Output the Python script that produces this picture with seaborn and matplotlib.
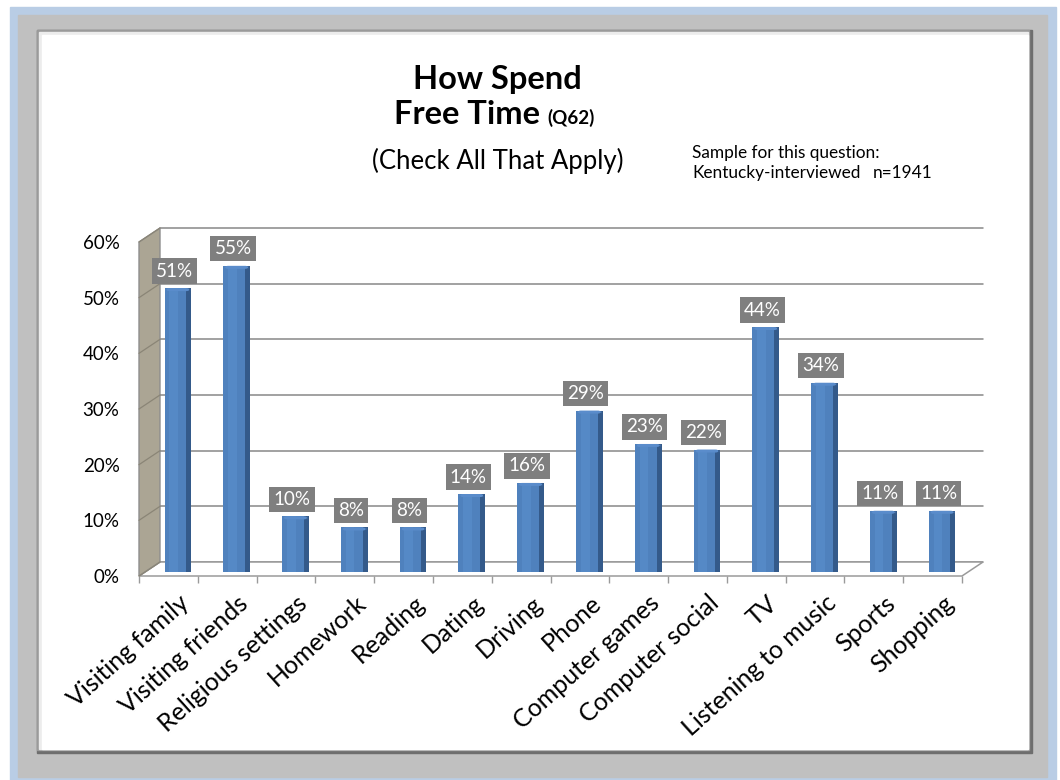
import numpy as np
import pandas as pd
import matplotlib
matplotlib.use("Agg")
import matplotlib.pyplot as plt
import matplotlib.transforms as mtrans
from matplotlib.patches import Rectangle, Polygon, FancyBboxPatch
from matplotlib.ticker import StrMethodFormatter
import seaborn as sns

# ---- data -------------------------------------------------------------
categories = ["Visiting family", "Visiting friends", "Religious settings",
              "Homework", "Reading", "Dating", "Driving", "Phone",
              "Computer games", "Computer social", "TV",
              "Listening to music", "Sports", "Shopping"]
percent = [51, 55, 10, 8, 8, 14, 16, 29, 23, 22, 44, 34, 11, 11]
y_ticks = [0, 10, 20, 30, 40, 50, 60]

title_line1 = "How Spend"
title_line2 = "Free Time"
question_code = "(Q62)"
subtitle = "(Check All That Apply)"
sample_line1 = "Sample for this question:"
sample_line2 = "Kentucky-interviewed"
sample_size = "n=1941"

# ---- style ------------------------------------------------------------
sns.set_theme(style="white")
plt.rcParams["font.family"] = ["Lato", "DejaVu Sans"]

W, H, DPI = 1060, 780, 100
fig = plt.figure(figsize=(W / DPI, H / DPI), dpi=DPI)
fig.patch.set_facecolor("white")


def frame_rect(x0, y0, x1, y1, **kw):
    """Rectangle given in pixel units measured from the top-left corner."""
    r = Rectangle((x0 / W, 1 - y1 / H), (x1 - x0) / W, (y1 - y0) / H,
                  transform=fig.transFigure, **kw)
    fig.patches.append(r)
    return r


# picture frame: light blue mat, grey border, white card with a soft shadow
frame_rect(10, 7, 1056, 780, color="#b9cde5", zorder=-10)
frame_rect(18, 15, 1047, 777, color="#c0c0c0", zorder=-9)
frame_rect(37, 30, 1032, 753, color="#6e6e6e", zorder=-8)
frame_rect(37, 30, 1029, 750, color="#9a9a9a", zorder=-7)
frame_rect(39, 32, 1028, 749, color="#ececec", zorder=-6)
frame_rect(42, 35, 1028, 749, color="white", zorder=-5)

# ---- axes (front plane of the 3-D box) --------------------------------
ax = fig.add_axes([139 / W, 1 - 576 / H, 823 / W, 334 / H])
ax.patch.set_alpha(0)

df = pd.DataFrame({"activity": categories, "share": percent})
face_w = 0.37
sns.barplot(data=df, x="activity", y="share", order=categories,
            color="#4f81bd", saturation=1, width=face_w, ax=ax,
            edgecolor="none", zorder=4)
bars = list(ax.patches)

n = len(categories)
x0, x1 = -0.5, n - 0.5
ax.set_xlim(x0, x1)
ax.set_ylim(0, 60)

# pixel sizes of one data unit, used for the depth offsets
pos = ax.get_position()
ux = pos.width * W / (x1 - x0)
uy = pos.height * H / 60.0
depth_dx = 21 / ux
depth_dy = 14 / uy

# bars sit a little behind the front edge
bar_trans = ax.transData + mtrans.ScaledTranslation(7 / DPI, 4 / DPI,
                                                    fig.dpi_scale_trans)
side_w = 5 / ux
cap_h = 3 / uy
for p in bars:
    p.set_transform(bar_trans)
    bx, bw, bh = p.get_x(), p.get_width(), p.get_height()
    # darker right-hand side of each column
    ax.add_patch(Rectangle((bx + bw, 0), side_w, bh, facecolor="#345a8a",
                           edgecolor="none", transform=bar_trans, zorder=4))
    # soft highlight down the face
    ax.add_patch(Rectangle((bx + 0.22 * bw, 0), 0.4 * bw, bh,
                           facecolor="#6096d4", alpha=0.4, edgecolor="none",
                           transform=bar_trans, zorder=4.1))
    # rounded top rim
    ax.add_patch(FancyBboxPatch((bx + 0.02, bh - cap_h), bw + side_w - 0.04,
                                cap_h,
                                boxstyle="round,pad=0,rounding_size=0.06",
                                mutation_aspect=ux / uy,
                                facecolor="#5a8ccb", edgecolor="none",
                                transform=bar_trans, zorder=4.2))

grid_c = "#878787"
# back wall grid lines
for v in y_ticks:
    ax.plot([x0 + depth_dx, x1 + depth_dx], [v + depth_dy, v + depth_dy],
            color=grid_c, lw=1.1, clip_on=False, zorder=1)

# floor
ax.add_patch(Polygon([(x0, 0), (x1, 0), (x1 + depth_dx, depth_dy),
                      (x0 + depth_dx, depth_dy)], closed=True,
                     facecolor="white", edgecolor="#9a9a9a", lw=1.1,
                     clip_on=False, zorder=2))
# left side wall with its own grid lines
ax.add_patch(Polygon([(x0, 0), (x0, 60), (x0 + depth_dx, 60 + depth_dy),
                      (x0 + depth_dx, depth_dy)], closed=True,
                     facecolor="#aba594", edgecolor="#8e8e8e", lw=1,
                     clip_on=False, zorder=3))
for v in y_ticks:
    ax.plot([x0, x0 + depth_dx], [v, v + depth_dy], color="#8a8576",
            lw=0.9, clip_on=False, zorder=3.1)

# value labels in grey boxes
for p, v in zip(bars, percent):
    ax.annotate(f"{v}%", xy=(p.get_x() + p.get_width() / 2, v),
                xycoords=bar_trans, xytext=(-1, 17),
                textcoords="offset pixels", ha="center", va="center",
                color="white", fontsize=13.5, zorder=6,
                annotation_clip=False,
                bbox=dict(boxstyle="square,pad=0.22", fc="#7f7f7f",
                          ec="none"))

# ---- ticks ------------------------------------------------------------
for s in ax.spines.values():
    s.set_visible(False)
ax.grid(False)
ax.set_xlabel("")
ax.set_ylabel("")
ax.set_yticks(y_ticks)
ax.yaxis.set_major_formatter(StrMethodFormatter("{x:.0f}%"))
ax.tick_params(axis="y", length=0, pad=14, labelsize=13.5,
               labelcolor="black")

ax.set_xticks(range(n))
ax.set_xticklabels(categories, rotation=42, ha="right",
                   rotation_mode="anchor", fontsize=18, color="black")
ax.tick_params(axis="x", which="major", length=0, pad=11)
ax.set_xticks(np.arange(x0, n, 1), minor=True)
ax.tick_params(axis="x", which="minor", bottom=True, length=5,
               width=1, color="#9a9a9a")
label_shift = mtrans.ScaledTranslation(10 / DPI, 0, fig.dpi_scale_trans)
for t in ax.xaxis.get_major_ticks():
    t.label1.set_transform(t.label1.get_transform() + label_shift)

# ---- titles -----------------------------------------------------------
fig.text(497 / W, 1 - 89 / H, title_line1, ha="center", va="baseline",
         fontsize=23.5, fontweight="bold", color="black")
fig.text(540 / W, 1 - 124 / H, title_line2, ha="right", va="baseline",
         fontsize=23.5, fontweight="bold", color="black")
fig.text(547 / W, 1 - 124 / H, question_code, ha="left", va="baseline",
         fontsize=13.5, fontweight="bold", color="black")
fig.text(498 / W, 1 - 161 / H, subtitle, ha="center", va="center",
         fontsize=18.5, color="black")
fig.text(692 / W, 1 - 153 / H, sample_line1, ha="left", va="center",
         fontsize=12.4, color="black")
fig.text(692 / W, 1 - 173 / H, sample_line2, ha="left", va="center",
         fontsize=12.4, color="black")
fig.text(933 / W, 1 - 173 / H, sample_size, ha="right", va="center",
         fontsize=12.4, color="black")

fig.savefig("out.png", dpi=DPI, facecolor=fig.get_facecolor())
